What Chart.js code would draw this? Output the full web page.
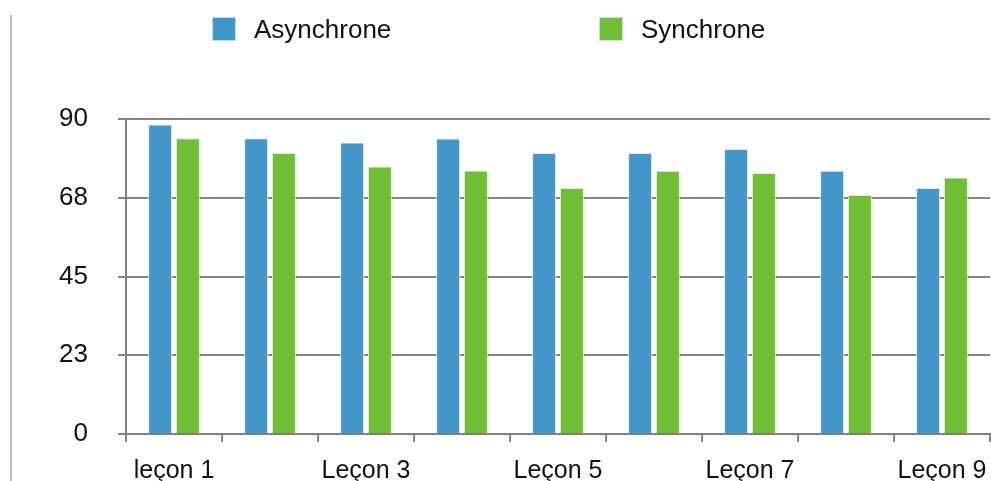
<!DOCTYPE html>
<html>
<head>
<meta charset="utf-8">
<script src="https://cdn.jsdelivr.net/npm/chart.js@4/dist/chart.umd.min.js"></script>
<style>
  html, body { margin: 0; padding: 0; background: #fff; }
  #wrap { width: 991px; height: 481px; position: relative; }
</style>
</head>
<body>
<div id="wrap"><canvas id="lessonChart"></canvas></div>
<script>
const lessons = ['leçon 1', 'Leçon 2', 'Leçon 3', 'Leçon 4', 'Leçon 5', 'Leçon 6', 'Leçon 7', 'Leçon 8', 'Leçon 9'];
const asyncScores = [88.4, 84.5, 83.3, 84.4, 80.3, 80.3, 81.4, 75.2, 70.3];
const syncScores = [84.5, 80.3, 76.4, 75.3, 70.3, 75.2, 74.6, 68.3, 73.3];
const yTicks = [0, 22.5, 45, 67.5, 90];

const FONT = '"Liberation Sans", Arial, Helvetica, sans-serif';

// legend drawn by hand so the two items sit far apart like the original
const wideLegend = {
  id: 'wideLegend',
  afterDraw(chart) {
    const ctx = chart.ctx;
    const spots = [212, 599];
    ctx.save();
    // thin frame line on the left of the screenshot
    ctx.strokeStyle = '#aaaaaa';
    ctx.lineWidth = 1.5;
    ctx.beginPath();
    ctx.moveTo(11, 15);
    ctx.lineTo(11, chart.height);
    ctx.stroke();

    chart.data.datasets.forEach((ds, i) => {
      const x = spots[i];
      ctx.fillStyle = ds.backgroundColor;
      ctx.fillRect(x, 17, 24, 24);
      ctx.strokeStyle = 'rgba(210,225,235,0.9)';
      ctx.lineWidth = 1;
      ctx.strokeRect(x + 0.5, 17.5, 23, 23);
      ctx.fillStyle = '#111';
      ctx.font = '26px ' + FONT;
      ctx.textBaseline = 'middle';
      ctx.fillText(ds.label, x + 42, 31);
    });
    ctx.restore();
  }
};

const lessonChart = document.getElementById('lessonChart');
new Chart(lessonChart, {
  type: 'bar',
  data: {
    labels: lessons,
    datasets: [
      {
        label: 'Asynchrone',
        data: asyncScores,
        backgroundColor: '#4397c8',
        borderColor: 'rgba(225,232,238,0.9)',
        borderWidth: 1,
        categoryPercentage: 0.58,
        barPercentage: 0.86,
      },
      {
        label: 'Synchrone',
        data: syncScores,
        backgroundColor: '#6fbe33',
        borderColor: 'rgba(225,232,238,0.9)',
        borderWidth: 1,
        categoryPercentage: 0.58,
        barPercentage: 0.86,
      }
    ]
  },
  options: {
    responsive: true,
    maintainAspectRatio: false,
    animation: false,
    layout: {
      padding: { top: 119, left: 10, right: 1, bottom: 0 }
    },
    scales: {
      y: {
        min: 0,
        max: 90,
        afterBuildTicks: function(scale) {
          scale.ticks = yTicks.map(v => ({ value: v }));
        },
        afterFit: function(scale) {
          scale.width = 116;
          scale.paddingBottom = 0;
        },
        border: { display: true, color: '#808080', width: 2 },
        grid: {
          color: '#858585',
          lineWidth: 2,
          tickLength: 8,
          drawTicks: true,
        },
        ticks: {
          padding: 30,
          color: '#111',
          font: { family: FONT, size: 26 },
          callback: function(value) { return Math.round(value); }
        }
      },
      x: {
        afterFit: function(scale) {
          scale.height = 47;
          scale.paddingLeft = 0;
          scale.paddingRight = 0;
        },
        border: { display: true, color: '#808080', width: 2 },
        grid: {
          offset: true,
          drawOnChartArea: false,
          drawTicks: true,
          tickLength: 8,
          color: '#858585',
          lineWidth: 2,
        },
        ticks: {
          autoSkip: false,
          maxRotation: 0,
          padding: 14,
          color: '#111',
          font: { family: FONT, size: 25 },
          callback: function(value, index) {
            return index % 2 === 0 ? lessons[index] : '';
          }
        }
      }
    },
    plugins: {
      legend: { display: false },
      tooltip: { enabled: false }
    }
  },
  plugins: [wideLegend]
});
</script>
</body>
</html>
